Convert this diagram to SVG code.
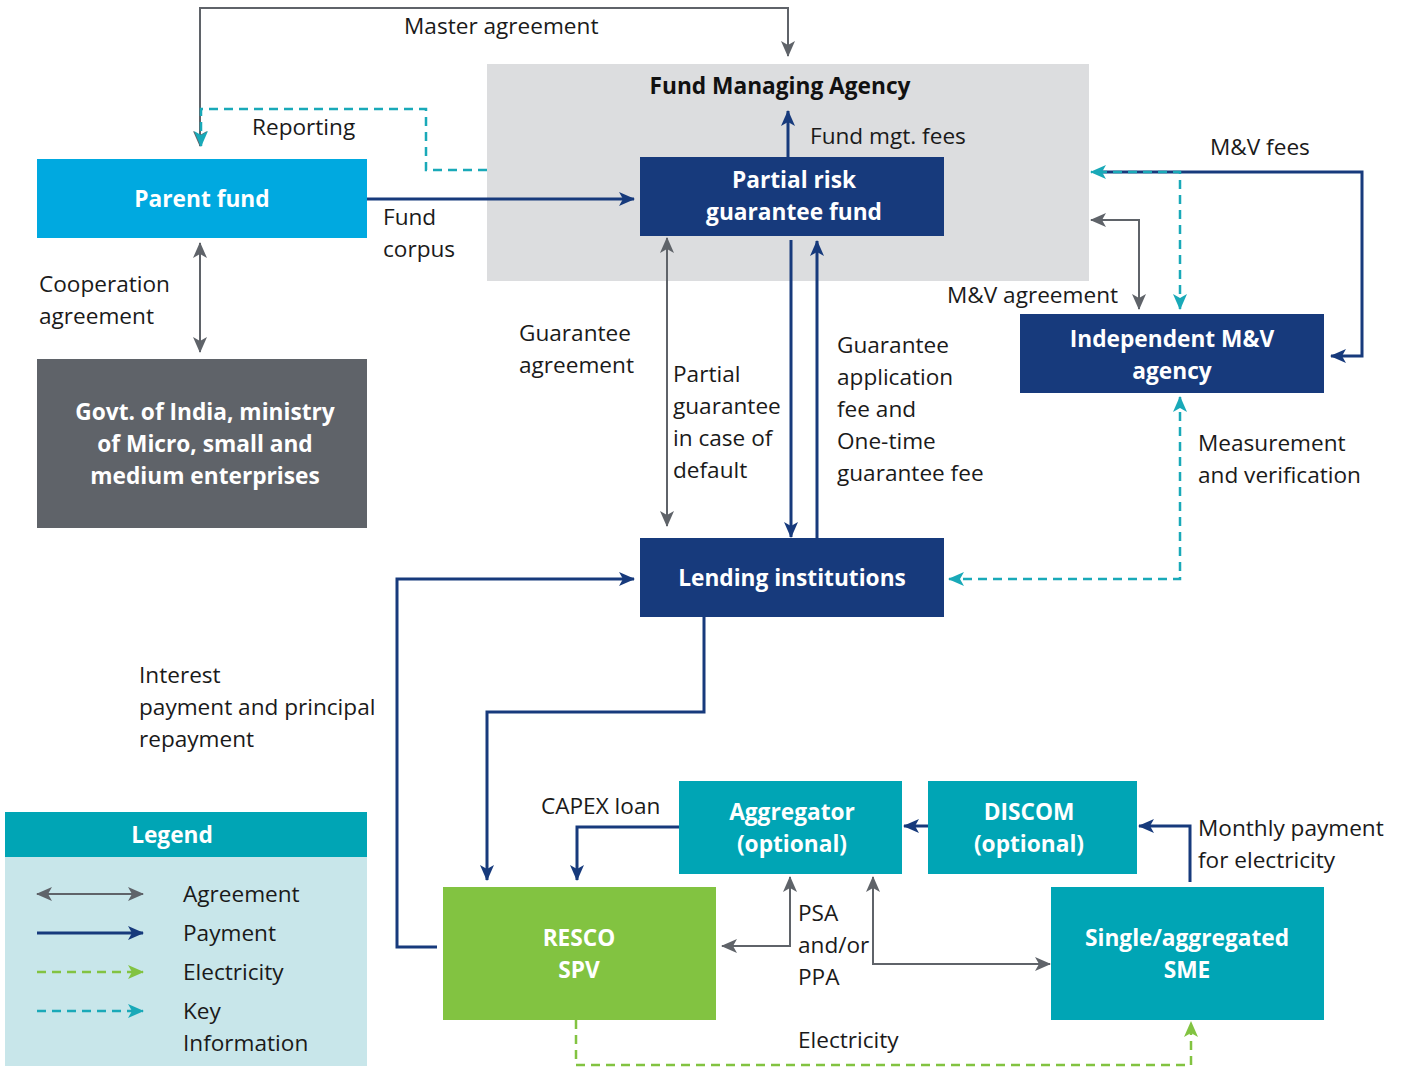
<svg xmlns="http://www.w3.org/2000/svg" width="1405" height="1071" viewBox="0 0 1405 1071">
<defs>
<style>
.t{font-family:"Open Sans","Liberation Sans",sans-serif;font-size:22.6px;fill:#1a1a1a}
.b{font-family:"Open Sans","Liberation Sans",sans-serif;font-size:22.7px;font-weight:bold;fill:#fff;text-anchor:middle}
.agr{fill:none;stroke:#5f6369;stroke-width:2}
.pay{fill:none;stroke:#173a7c;stroke-width:3}
.ele{fill:none;stroke:#82c341;stroke-width:2.5;stroke-dasharray:9 6}
.key{fill:none;stroke:#19a9b8;stroke-width:2.5;stroke-dasharray:9 6}
</style>
<marker id="mA" viewBox="0 0 16 14" refX="15" refY="7" markerWidth="16" markerHeight="14" markerUnits="userSpaceOnUse" orient="auto-start-reverse"><path d="M0,0 L16,7 L0,14 L4,7 z" fill="#5f6369"/></marker>
<marker id="mP" viewBox="0 0 16 14" refX="15" refY="7" markerWidth="16" markerHeight="14" markerUnits="userSpaceOnUse" orient="auto-start-reverse"><path d="M0,0 L16,7 L0,14 L4,7 z" fill="#173a7c"/></marker>
<marker id="mE" viewBox="0 0 16 14" refX="15" refY="7" markerWidth="16" markerHeight="14" markerUnits="userSpaceOnUse" orient="auto-start-reverse"><path d="M0,0 L16,7 L0,14 L4,7 z" fill="#82c341"/></marker>
<marker id="mK" viewBox="0 0 16 14" refX="15" refY="7" markerWidth="16" markerHeight="14" markerUnits="userSpaceOnUse" orient="auto-start-reverse"><path d="M0,0 L16,7 L0,14 L4,7 z" fill="#19a9b8"/></marker>
</defs>
<rect width="1405" height="1071" fill="#fff"/>

<g id="fund-managing-agency">
<rect x="487" y="64" width="602" height="217" fill="#dcdddf"/>
<text class="b" x="780" y="94" style="fill:#111">Fund Managing Agency</text>
</g>

<g id="connectors">
<path class="agr" d="M200,146 L200,8 L788,8 L788,56" marker-start="url(#mA)" marker-end="url(#mA)"/>
<path class="key" d="M487,170 L426,170 L426,109 L201,109 L201,146" marker-end="url(#mK)"/>
<path class="pay" d="M367,199 L634,199" marker-end="url(#mP)"/>
<path class="pay" d="M788,157 L788,111" marker-end="url(#mP)"/>
<path class="agr" d="M200,243 L200,352" marker-start="url(#mA)" marker-end="url(#mA)"/>
<path class="agr" d="M667,238 L667,526" marker-start="url(#mA)" marker-end="url(#mA)"/>
<path class="pay" d="M791,240 L791,537" marker-end="url(#mP)"/>
<path class="pay" d="M817,538 L817,241" marker-end="url(#mP)"/>
<path class="pay" d="M1096,172 L1362,172 L1362,356 L1331,356" marker-end="url(#mP)"/>
<path class="key" d="M1180,309 L1180,172 L1091,172" marker-start="url(#mK)" marker-end="url(#mK)"/>
<path class="agr" d="M1091,220 L1139,220 L1139,309" marker-start="url(#mA)" marker-end="url(#mA)"/>
<path class="key" d="M1180,397 L1180,579 L949,579" marker-start="url(#mK)" marker-end="url(#mK)"/>
<path class="pay" d="M704,617 L704,712 L487,712 L487,880" marker-end="url(#mP)"/>
<path class="pay" d="M437,947 L397,947 L397,579 L634,579" marker-end="url(#mP)"/>
<path class="pay" d="M679,827 L577,827 L577,880" marker-end="url(#mP)"/>
<path class="pay" d="M928,826 L904,826" marker-end="url(#mP)"/>
<path class="pay" d="M1190,882 L1190,826 L1139,826" marker-end="url(#mP)"/>
<path class="agr" d="M722,946 L790,946 L790,877" marker-start="url(#mA)" marker-end="url(#mA)"/>
<path class="agr" d="M873,877 L873,964 L1050,964" marker-start="url(#mA)" marker-end="url(#mA)"/>
<path class="ele" d="M576,1020 L576,1065 L1191,1065 L1191,1022" marker-end="url(#mE)"/>
</g>

<g id="partial-risk-guarantee-fund">
<rect x="640" y="157" width="304" height="79" fill="#173a7c"/>
<text class="b" x="794" y="188">Partial risk</text>
<text class="b" x="794" y="220">guarantee fund</text>
</g>
<g id="parent-fund">
<rect x="37" y="159" width="330" height="79" fill="#00a9e0"/>
<text class="b" x="202" y="207">Parent fund</text>
</g>
<g id="govt-of-india">
<rect x="37" y="359" width="330" height="169" fill="#5f6369"/>
<text class="b" x="205" y="420">Govt. of India, ministry</text>
<text class="b" x="205" y="452">of Micro, small and</text>
<text class="b" x="205" y="484">medium enterprises</text>
</g>
<g id="independent-mv-agency">
<rect x="1020" y="314" width="304" height="79" fill="#173a7c"/>
<text class="b" x="1172" y="347">Independent M&amp;V</text>
<text class="b" x="1172" y="379">agency</text>
</g>
<g id="lending-institutions">
<rect x="640" y="538" width="304" height="79" fill="#173a7c"/>
<text class="b" x="792" y="586">Lending institutions</text>
</g>
<g id="aggregator">
<rect x="679" y="781" width="223" height="93" fill="#00a5b5"/>
<text class="b" x="792" y="820">Aggregator</text>
<text class="b" x="792" y="852">(optional)</text>
</g>
<g id="discom">
<rect x="928" y="781" width="209" height="93" fill="#00a5b5"/>
<text class="b" x="1029" y="820">DISCOM</text>
<text class="b" x="1029" y="852">(optional)</text>
</g>
<g id="sme">
<rect x="1051" y="887" width="273" height="133" fill="#00a5b5"/>
<text class="b" x="1187" y="946">Single/aggregated</text>
<text class="b" x="1187" y="978">SME</text>
</g>
<g id="resco-spv">
<rect x="443" y="887" width="273" height="133" fill="#82c341"/>
<text class="b" x="579" y="946">RESCO</text>
<text class="b" x="579" y="978">SPV</text>
</g>

<g id="labels">
<text class="t" x="404" y="34">Master agreement</text>
<text class="t" x="252" y="135">Reporting</text>
<text class="t" x="810" y="144">Fund mgt. fees</text>
<text class="t" x="1210" y="155">M&amp;V fees</text>
<text class="t" x="383" y="225">Fund</text>
<text class="t" x="383" y="257">corpus</text>
<text class="t" x="39" y="292">Cooperation</text>
<text class="t" x="39" y="324">agreement</text>
<text class="t" x="519" y="341">Guarantee</text>
<text class="t" x="519" y="373">agreement</text>
<text class="t" x="673" y="382">Partial</text>
<text class="t" x="673" y="414">guarantee</text>
<text class="t" x="673" y="446">in case of</text>
<text class="t" x="673" y="478">default</text>
<text class="t" x="837" y="353">Guarantee</text>
<text class="t" x="837" y="385">application</text>
<text class="t" x="837" y="417">fee and</text>
<text class="t" x="837" y="449">One-time</text>
<text class="t" x="837" y="481">guarantee fee</text>
<text class="t" x="947" y="303">M&amp;V agreement</text>
<text class="t" x="1198" y="451">Measurement</text>
<text class="t" x="1198" y="483">and verification</text>
<text class="t" x="139" y="683">Interest</text>
<text class="t" x="139" y="715">payment and principal</text>
<text class="t" x="139" y="747">repayment</text>
<text class="t" x="541" y="814">CAPEX loan</text>
<text class="t" x="1198" y="836">Monthly payment</text>
<text class="t" x="1198" y="868">for electricity</text>
<text class="t" x="798" y="921">PSA</text>
<text class="t" x="798" y="953">and/or</text>
<text class="t" x="798" y="985">PPA</text>
<text class="t" x="798" y="1048">Electricity</text>
</g>

<g id="legend">
<rect x="5" y="812" width="362" height="45" fill="#00a5b5"/>
<rect x="5" y="857" width="362" height="209" fill="#c8e6ea"/>
<text class="b" x="172" y="843">Legend</text>
<path class="agr" d="M37,894 L143,894" marker-start="url(#mA)" marker-end="url(#mA)"/>
<path class="pay" d="M37,933 L143,933" marker-end="url(#mP)"/>
<path class="ele" d="M37,972 L143,972" marker-end="url(#mE)"/>
<path class="key" d="M37,1011 L143,1011" marker-end="url(#mK)"/>
<text class="t" x="183" y="902">Agreement</text>
<text class="t" x="183" y="941">Payment</text>
<text class="t" x="183" y="980">Electricity</text>
<text class="t" x="183" y="1019">Key</text>
<text class="t" x="183" y="1051">Information</text>
</g>
</svg>
